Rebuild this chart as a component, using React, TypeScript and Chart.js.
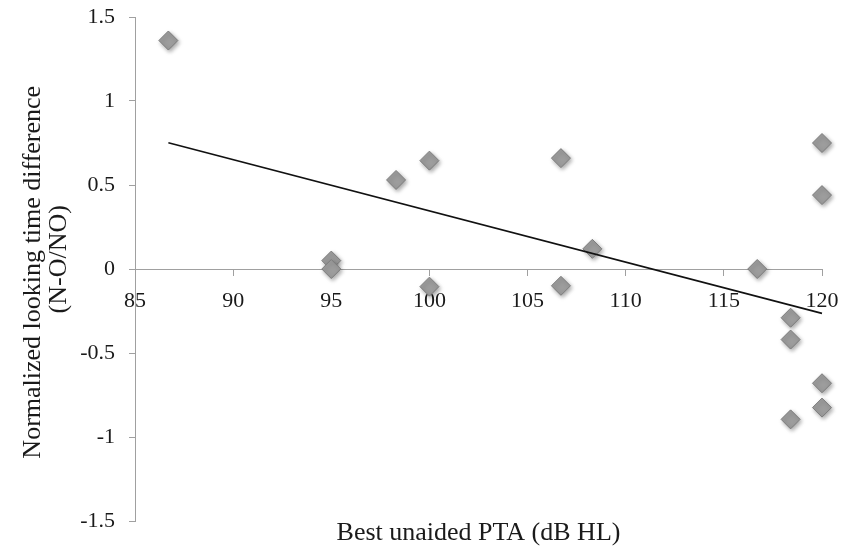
import React, { useEffect, useRef } from "react";
import { Chart, registerables } from "chart.js";

Chart.register(...registerables);

// Best unaided PTA (dB HL)
const ptaValues: number[] = [86.7, 95, 95, 98.3, 100, 100, 106.7, 106.7, 108.3, 116.7, 118.4, 118.4, 118.4, 120, 120, 120, 120];
// Normalized looking time difference (N-O/NO)
const diffValues: number[] = [1.36, 0.05, 0.0, 0.53, 0.645, -0.105, 0.66, -0.1, 0.12, 0.0, -0.29, -0.42, -0.895, 0.75, 0.44, -0.68, -0.825];

// Linear trend line end points
const trendX: number[] = [86.7, 120];
const trendY: number[] = [0.752, -0.264];

const xTicks = { min: 85, max: 120, step: 5 };
const yTicks = { min: -1.5, max: 1.5, step: 0.5 };

const xTitle = "Best unaided PTA (dB HL)";
const yTitle = ["Normalized looking time difference ", "   (N-O/NO)"];

const FONT = "'Liberation Serif', 'Times New Roman', serif";

const shadowPlugin = {
  id: "markerShadow",
  beforeDatasetDraw(chart: any, args: any) {
    if (args.index === 1) {
      const ctx = chart.ctx;
      ctx.save();
      ctx.shadowColor = "rgba(0,0,0,0.35)";
      ctx.shadowBlur = 4;
      ctx.shadowOffsetX = 1.5;
      ctx.shadowOffsetY = 2;
    }
  },
  afterDatasetDraw(chart: any, args: any) {
    if (args.index === 1) {
      chart.ctx.restore();
    }
  },
};

export default function App() {
  const canvasRef = useRef<HTMLCanvasElement | null>(null);

  useEffect(() => {
    if (!canvasRef.current) return;
    const points = ptaValues.map((x, i) => ({ x, y: diffValues[i] }));
    const trend = trendX.map((x, i) => ({ x, y: trendY[i] }));

    const chart = new Chart(canvasRef.current, {
      type: "scatter",
      data: {
        datasets: [
          {
            type: "line",
            label: "Trend",
            data: trend,
            borderColor: "#111111",
            borderWidth: 1.6,
            pointRadius: 0,
            showLine: true,
            fill: false,
            clip: false,
          } as any,
          {
            label: "Data",
            data: points,
            pointStyle: "rectRot",
            pointRadius: 9.5,
            backgroundColor: "#9d9d9d",
            borderColor: "#7c7c7c",
            borderWidth: 1,
            clip: false,
          } as any,
        ],
      },
      options: {
        animation: false,
        responsive: true,
        maintainAspectRatio: false,
        layout: { padding: { top: 17, right: 22, left: 0, bottom: 0 } },
        plugins: {
          legend: { display: false },
          tooltip: { enabled: false },
        },
        scales: {
          x: {
            type: "linear",
            position: { y: 0 } as any,
            min: xTicks.min,
            max: xTicks.max,
            ticks: {
              stepSize: xTicks.step,
              color: "#1a1a1a",
              font: { family: FONT, size: 22 },
              padding: 13,
              maxRotation: 0,
            },
            grid: {
              drawOnChartArea: false,
              drawTicks: true,
              tickLength: 6,
              color: "#a0a0a0",
            },
            border: { display: true, color: "#a0a0a0", width: 1 },
            afterFit: (scale: any) => {
              scale.paddingLeft = 0;
              scale.paddingRight = 0;
              scale.paddingTop = 0;
              scale.paddingBottom = 0;
            },
          } as any,
          x2: {
            type: "linear",
            axis: "x",
            position: "bottom",
            min: xTicks.min,
            max: xTicks.max,
            ticks: { display: false },
            grid: { display: false, drawTicks: false },
            border: { display: false },
            title: {
              display: true,
              text: xTitle,
              color: "#1a1a1a",
              font: { family: FONT, size: 26, lineHeight: 1 },
              padding: { top: 0, bottom: 13 },
            },
            afterFit: (scale: any) => {
              scale.height = 38;
              scale.paddingLeft = 0;
              scale.paddingRight = 0;
            },
          } as any,
          y: {
            type: "linear",
            position: "left",
            min: yTicks.min,
            max: yTicks.max,
            ticks: {
              stepSize: yTicks.step,
              color: "#1a1a1a",
              font: { family: FONT, size: 22 },
              padding: 14,
              callback: (v: any) => String(Math.round(Number(v) * 10) / 10),
            },
            grid: {
              drawOnChartArea: false,
              drawTicks: true,
              tickLength: 6,
              color: "#a0a0a0",
            },
            border: { display: true, color: "#a0a0a0", width: 1 },
            title: {
              display: true,
              text: yTitle,
              color: "#1a1a1a",
              font: { family: FONT, size: 26, lineHeight: 1 },
              padding: { top: 20, bottom: 0 },
            },
            afterFit: (scale: any) => {
              scale.width = 135;
              scale.paddingTop = 0;
              scale.paddingBottom = 0;
            },
          } as any,
        },
      },
      plugins: [shadowPlugin],
    });

    return () => chart.destroy();
  }, []);

  return (
    <div style={{ position: "absolute", left: 0, top: 0, width: 844, height: 559, background: "#ffffff" }}>
      <canvas ref={canvasRef} />
    </div>
  );
}
